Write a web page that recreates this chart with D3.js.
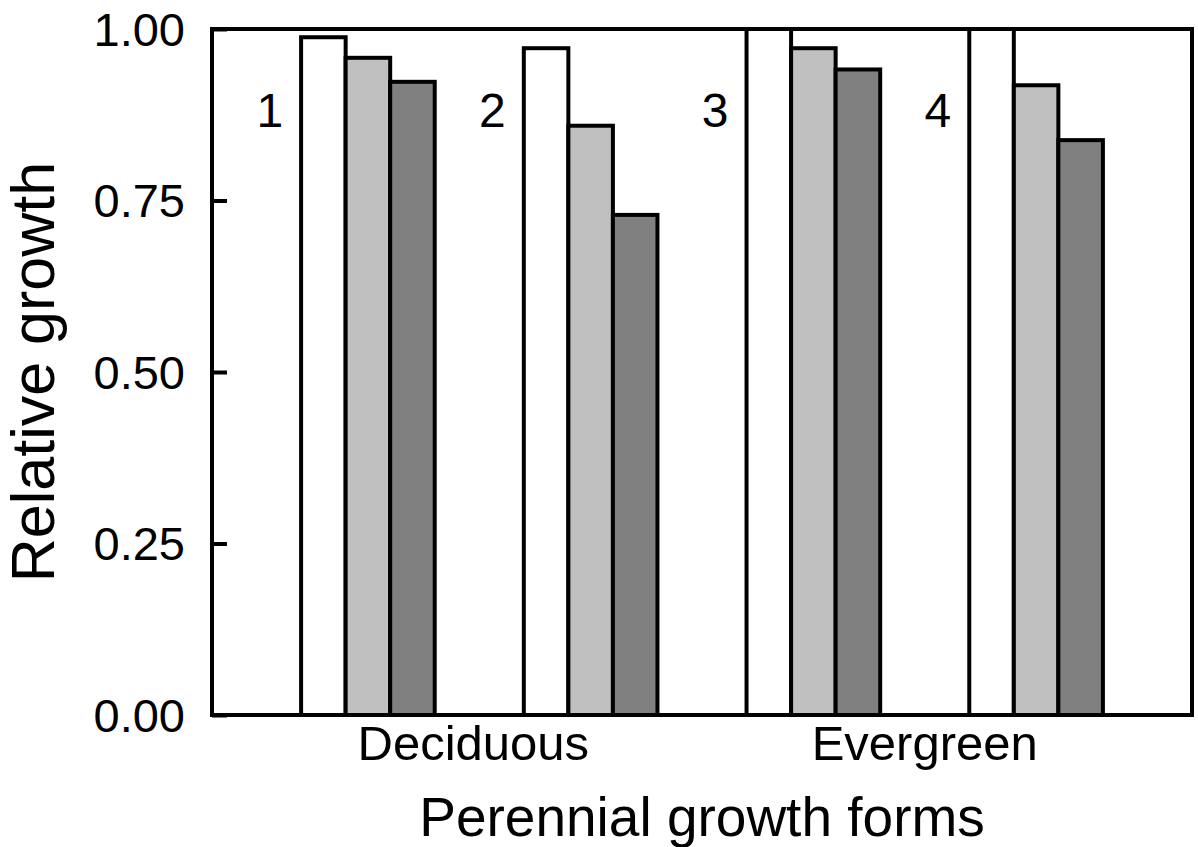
<!DOCTYPE html>
<html>
<head>
<meta charset="utf-8" />
<script src="https://cdnjs.cloudflare.com/ajax/libs/d3/7.8.5/d3.min.js"></script>
<style>
  body { margin: 0; background: #fff; }
  svg text { font-family: "Liberation Sans", Arial, sans-serif; fill: #000; }
</style>
</head>
<body>
<svg id="chart"></svg>
<script>
// data
var groups = ["1", "2", "3", "4"];
var categories = ["Deciduous", "Evergreen"];
var categoryGroups = [["1", "2"], ["3", "4"]];
var series = ["s1", "s2", "s3"];
var seriesColors = ["#ffffff", "#c0c0c0", "#808080"];
var values = {
  "1": [0.988, 0.958, 0.923],
  "2": [0.972, 0.859, 0.729],
  "3": [1.06, 0.972, 0.941],
  "4": [1.06, 0.918, 0.838]
};
var yTicks = [0, 0.25, 0.5, 0.75, 1.0];

var W = 1198, H = 847;
var plotLeft = 212, plotRight = 1192, plotTop = 29, plotBottom = 715;

var svg = d3.select('#chart').attr('width', W).attr('height', H);

var x = d3.scaleBand().domain(groups).range([plotLeft, plotRight]).paddingInner(0.4).paddingOuter(0.4);
var xs = d3.scaleBand().domain(series).range([0, x.bandwidth()]).padding(0);
var y = d3.scaleLinear().domain([0, 1]).range([plotBottom, plotTop]);

svg.append('clipPath').attr('id', 'plotclip')
  .append('rect').attr('x', plotLeft).attr('y', plotTop)
  .attr('width', plotRight - plotLeft).attr('height', plotBottom - plotTop);

var bars = svg.append('g').attr('clip-path', 'url(#plotclip)');
groups.forEach(function(g) {
  bars.selectAll(null).data(values[g]).enter().append('rect')
    .attr('x', function(d, i) { return x(g) + xs(series[i]); })
    .attr('y', function(d) { return y(d); })
    .attr('width', xs.bandwidth())
    .attr('height', function(d) { return y(0) - y(d); })
    .attr('fill', function(d, i) { return seriesColors[i]; })
    .attr('stroke', '#000')
    .attr('stroke-width', 4);
});

// frame
svg.append('rect').attr('x', plotLeft).attr('y', plotTop)
  .attr('width', plotRight - plotLeft).attr('height', plotBottom - plotTop)
  .attr('fill', 'none').attr('stroke', '#000').attr('stroke-width', 4);

// y axis: inward ticks
var yAxis = d3.axisRight(y).tickValues(yTicks).tickSize(15).tickFormat(d3.format('.2f'));
var yg = svg.append('g').attr('transform', 'translate(' + plotLeft + ',0)').call(yAxis);
yg.select('.domain').remove();
yg.selectAll('.tick line').attr('stroke', '#000').attr('stroke-width', 4);
yg.selectAll('.tick text')
  .attr('x', -27).attr('text-anchor', 'end').attr('dy', '0.35em')
  .style('font-size', '47px').style('font-family', '"Liberation Sans", Arial, sans-serif');

// group number labels
svg.selectAll('.glabel').data(groups).enter().append('text')
  .attr('class', 'glabel')
  .attr('x', function(d) { return x(d) - 18; })
  .attr('y', 127)
  .attr('text-anchor', 'end')
  .style('font-size', '48px')
  .text(function(d) { return d; });

// category labels
svg.selectAll('.clabel').data(categories).enter().append('text')
  .attr('class', 'clabel')
  .attr('x', function(d, i) {
    return d3.mean(categoryGroups[i], function(g) { return x(g) + x.bandwidth() / 2; }) - (i === 0 ? 6 : 0);
  })
  .attr('y', 760)
  .attr('text-anchor', 'middle')
  .style('font-size', '49px')
  .text(function(d) { return d; });

// axis titles
svg.append('text').attr('x', (plotLeft + plotRight) / 2).attr('y', 836)
  .attr('text-anchor', 'middle').style('font-size', '55px').text('Perennial growth forms');

svg.append('text').attr('transform', 'translate(54,' + ((plotTop + plotBottom) / 2) + ') rotate(-90)')
  .attr('text-anchor', 'middle').style('font-size', '61px').text('Relative growth');
</script>
</body>
</html>
